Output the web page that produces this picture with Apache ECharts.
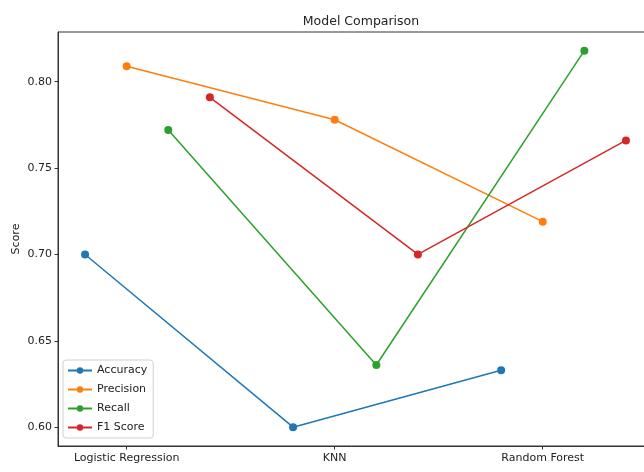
<!DOCTYPE html>
<html>
<head>
<meta charset="utf-8">
<script src="https://cdn.jsdelivr.net/npm/echarts@6/dist/echarts.min.js"></script>
<style>html,body{margin:0;padding:0;background:#fff}#c{width:644px;height:472px}</style>
</head>
<body>
<div id="c"></div>
<script>
const models = ['Logistic Regression', 'KNN', 'Random Forest'];
const seriesNames = ['Accuracy', 'Precision', 'Recall', 'F1 Score'];
const accuracy = [0.700, 0.600, 0.633];
const precision = [0.809, 0.778, 0.719];
const recall = [0.772, 0.636, 0.818];
const f1 = [0.791, 0.700, 0.766];
const yTicks = [0.60, 0.65, 0.70, 0.75, 0.80];
const colors = ['#1f77b4', '#ff7f0e', '#2ca02c', '#d62728'];
const offsets = [-0.2, 0, 0.2, 0.4];

const allValues = [accuracy, precision, recall, f1];
const font = 'DejaVu Sans';
const chart = echarts.init(document.getElementById('c'), null, {renderer: 'canvas'});
const series = allValues.map((vals, s) => ({
  name: seriesNames[s],
  type: 'line',
  data: vals.map((v, i) => [i + offsets[s], v]),
  symbol: 'circle',
  symbolSize: 8,
  color: colors[s],
  lineStyle: {width: 1.5, color: colors[s]},
  itemStyle: {color: colors[s]},
  emphasis: {disabled: true},
  animation: false
}));
chart.setOption({
  animation: false,
  title: {
    text: 'Model Comparison', left: 356, top: 10, textAlign: 'center',
    textStyle: {fontFamily: font, fontSize: 12.5, fontWeight: 'normal', color: '#222'}
  },
  grid: {left: 58, top: 32, width: 595, height: 414, show: true, borderColor: '#333', borderWidth: 1,
         containLabel: false, outerBoundsMode: 'none'},
  legend: {
    orient: 'vertical', left: 63, top: 360, itemWidth: 24, itemHeight: 8, itemGap: 8,
    padding: [5, 6, 5, 4],
    backgroundColor: '#fff', borderColor: '#d0d0d0', borderWidth: 1, borderRadius: 3,
    textStyle: {fontFamily: font, fontSize: 11, color: '#222'},
    data: seriesNames
  },
  xAxis: {
    type: 'value', min: -0.33, max: 2.53,
    axisLine: {show: true, onZero: false, lineStyle: {color: '#333'}},
    splitLine: {show: false},
    axisTick: {show: true, length: 3.5, lineStyle: {color: '#333'}, customValues: [0, 1, 2]},
    axisLabel: {
      customValues: [0, 1, 2], margin: 7,
      fontFamily: font, fontSize: 11, color: '#222',
      formatter: v => models[Math.round(v)]
    }
  },
  yAxis: {
    type: 'value', min: 0.5891, max: 0.8288,
    name: 'Score', nameLocation: 'middle', nameGap: 36, nameRotate: 90, nameMoveOverlap: false,
    nameTextStyle: {fontFamily: font, fontSize: 11, color: '#222'},
    axisLine: {show: true, onZero: false, lineStyle: {color: '#333'}},
    splitLine: {show: false},
    axisTick: {show: true, length: 3.5, lineStyle: {color: '#333'}, customValues: yTicks},
    axisLabel: {
      customValues: yTicks, margin: 6,
      fontFamily: font, fontSize: 11, color: '#222',
      formatter: v => v.toFixed(2)
    }
  },
  series: series
});
</script>
</body>
</html>
